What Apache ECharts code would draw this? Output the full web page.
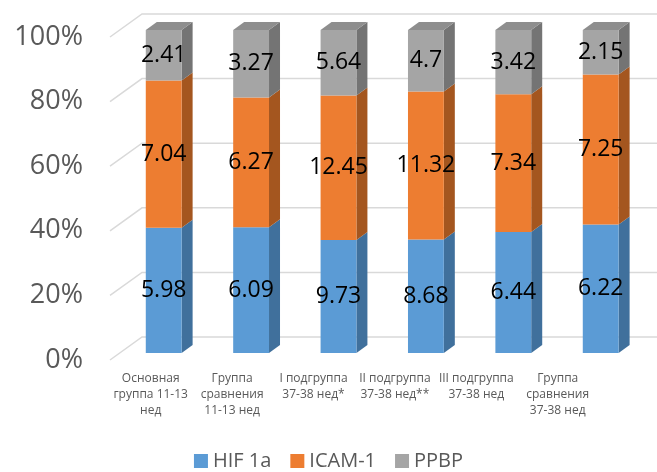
<!DOCTYPE html>
<html>
<head>
<meta charset="utf-8">
<script src="https://cdn.jsdelivr.net/npm/echarts@6/dist/echarts.min.js"></script>
<style>
  html, body { margin: 0; padding: 0; background: #fff; }
  #chart { width: 657px; height: 472px; }
</style>
</head>
<body>
<div id="chart"></div>
<script>
// Groups and measured values
const categories = [
  'Основная\nгруппа 11-13\nнед',
  'Группа\nсравнения\n11-13 нед',
  'I подгруппа\n37-38 нед*',
  'II подгруппа\n37-38 нед**',
  'III подгруппа\n37-38 нед',
  'Группа\nсравнения\n37-38 нед'
];
const seriesNames = ['HIF 1a', 'ICAM-1', 'PPBP'];
const hif1a = [5.98, 6.09, 9.73, 8.68, 6.44, 6.22];
const icam1 = [7.04, 6.27, 12.45, 11.32, 7.34, 7.25];
const ppbp  = [2.41, 3.27, 5.64, 4.7, 3.42, 2.15];
const yTicks = [0, 20, 40, 60, 80, 100];

const values = [hif1a, icam1, ppbp];
const frontColors = ['#5B9BD5', '#ED7D31', '#A5A5A5'];
const sideColors  = ['#40709C', '#A4561F', '#747474'];
const topColors   = ['#4B80B0', '#C4662A', '#8E8E8E'];

// oblique projection offsets (pixels)
const BAR_SHIFT = [10, -7];   // bar front face relative to the front plane
const BAR_DEPTH = [11, -8];   // bar side/top depth
const WALL = [32, -23];       // back wall relative to the front plane
const FONT = '"Open Sans", "DejaVu Sans", sans-serif';

// 100% stacking
const totals = categories.map((_, i) => values.reduce((s, arr) => s + arr[i], 0));
function stackedData(k) {
  return categories.map((_, i) => {
    let below = 0;
    for (let j = 0; j < k; j++) below += values[j][i];
    const b = below / totals[i] * 100;
    const t = (below + values[k][i]) / totals[i] * 100;
    return [i, b, t, values[k][i]];
  });
}

function barRenderer(k) {
  return function (params, api) {
    const c = api.value(0);
    const pB = api.coord([c, api.value(1)]);
    const pT = api.coord([c, api.value(2)]);
    const bw = api.size([1, 0])[0] * 0.41;
    const x0 = pB[0] - bw / 2 + BAR_SHIFT[0];
    const x1 = x0 + bw;
    const yB = pB[1] + BAR_SHIFT[1];
    const yT = pT[1] + BAR_SHIFT[1];
    const dx = BAR_DEPTH[0], dy = BAR_DEPTH[1];
    const children = [
      {
        type: 'polygon',
        shape: { points: [[x1, yT], [x1 + dx, yT + dy], [x1 + dx, yB + dy], [x1, yB]] },
        style: { fill: sideColors[k] }
      }
    ];
    if (k === values.length - 1) {
      children.push({
        type: 'polygon',
        shape: { points: [[x0, yT], [x1, yT], [x1 + dx, yT + dy], [x0 + dx, yT + dy]] },
        style: { fill: topColors[k] }
      });
    }
    children.push({
      type: 'rect',
      shape: { x: x0, y: yT, width: bw, height: yB - yT },
      style: { fill: frontColors[k] },
      textContent: {
        style: { text: String(api.value(3)), fill: '#000', font: '23px ' + FONT }
      },
      textConfig: { position: 'inside' }
    });
    return { type: 'group', children: children };
  };
}

function gridRenderer(params, api) {
  const p = api.coord([0, api.value(1)]);
  const gx = params.coordSys.x;
  const y = p[1];
  return {
    type: 'polyline',
    shape: { points: [[gx, y], [gx + WALL[0], y + WALL[1]], [gx + 700, y + WALL[1]]] },
    style: { stroke: '#D9D9D9', lineWidth: 1.5, fill: null }
  };
}

const chart = echarts.init(document.getElementById('chart'), null, { renderer: 'canvas' });

const series = [
  {
    type: 'custom',
    name: 'grid',
    xAxisIndex: 0, yAxisIndex: 0,
    renderItem: gridRenderer,
    data: yTicks.map(v => [0, v]),
    encode: { x: 0, y: 1 },
    silent: true,
    z: 0
  }
];
seriesNames.forEach((name, k) => {
  series.push({
    type: 'custom',
    name: name,
    xAxisIndex: 0, yAxisIndex: 0,
    renderItem: barRenderer(k),
    data: stackedData(k),
    encode: { x: 0, y: [1, 2] },
    itemStyle: { color: frontColors[k] },
    z: 2
  });
});

chart.setOption({
  animation: false,
  backgroundColor: '#fff',
  grid: [
    { left: 110, top: 37, width: 524.4, height: 323 },
    { left: 110, top: 37, width: 488.4, height: 323 }
  ],
  xAxis: [
    {
      type: 'category', gridIndex: 0, data: categories,
      axisLine: { show: false }, axisTick: { show: false }, axisLabel: { show: false }
    },
    {
      type: 'category', gridIndex: 1, data: categories,
      axisLine: { show: false }, axisTick: { show: false },
      axisLabel: {
        interval: 0, margin: 11, color: '#595959',
        fontSize: 12, lineHeight: 16, fontFamily: FONT
      }
    }
  ],
  yAxis: [
    {
      type: 'value', gridIndex: 0, min: 0, max: 100, interval: 20,
      axisLine: { show: false }, axisTick: { show: false }, splitLine: { show: false },
      axisLabel: { formatter: '{value}%', color: '#595959', fontSize: 27, fontFamily: FONT, margin: 27 }
    },
    {
      type: 'value', gridIndex: 1, min: 0, max: 100, show: false
    }
  ],
  legend: {
    data: seriesNames,
    left: 'center', top: 451, padding: 0,
    icon: 'rect', itemWidth: 14, itemHeight: 14, itemGap: 19,
    textStyle: { color: '#595959', fontSize: 20, fontFamily: FONT },
    selectedMode: false
  },
  series: series
});
</script>
</body>
</html>
